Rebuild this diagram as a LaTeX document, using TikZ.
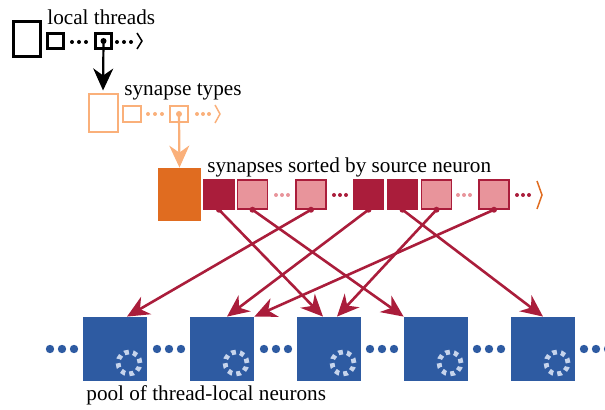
\documentclass[tikz,border=0pt]{standalone}
\usepackage{fontspec}
\setmainfont{Liberation Serif}
\usepackage{xcolor}
\usepackage{tikz}
\usetikzlibrary{arrows.meta}
\usetikzlibrary{positioning}
\definecolor{typorange}{RGB}{250,176,122}
\definecolor{srtorange}{RGB}{224,108,32}
\definecolor{syndark}{RGB}{170,29,59}
\definecolor{synpink}{RGB}{232,148,155}
\definecolor{neublue}{RGB}{46,91,162}
\definecolor{neuring}{RGB}{198,212,236}

\begin{document}
\begin{tikzpicture}[
	x=0.5pt, y=-0.5pt,
	font=\fontsize{10.6}{12}\selectfont,
	>={Stealth[length=11pt,width=10pt,inset=3.5pt]}
]
\tikzset{
    thrbox/.style = {rectangle, draw=black, line width=1.5pt, inner sep=0pt, minimum width=8pt, minimum height=7.5pt},
    typbox/.style = {rectangle, draw=typorange, line width=1pt, inner sep=0pt, minimum width=9pt, minimum height=8pt},
    synbox/.style = {rectangle, draw=syndark, line width=0.75pt, inner sep=0pt, minimum width=15pt, minimum height=14.5pt},
    neubox/.style = {rectangle, fill=neublue, inner sep=0pt, minimum size=32pt},
    headtext/.style = {anchor=base west, inner sep=0pt},
    synarrow/.style = {->, draw=syndark, line width=1.3pt},
}
\useasboundingbox (0,0) rectangle (605,410);

% local threads
\node[thrbox, minimum width=13.5pt, minimum height=17.5pt] (thr0) at (27,39) {};
\node[thrbox] (thr1) at (55.5,41) {};
\node[thrbox] (thr2) at (103.5,41) {};
\fill (thr2.center) circle (1.5pt);
\foreach \x in {72,79,86,117,124,131} \fill (\x,42) circle (1pt);
\draw[line width=0.75pt] (137,33) -- (142,41) -- (137,49);
\node[headtext] (thrtext) at (47,25) {local threads};

% synapse types
\node[typbox, minimum width=14.5pt, minimum height=19pt] (typ0) at (103,113.5) {};
\node[typbox] (typ1) at (132,114) {};
\node[typbox] (typ2) at (179,114) {};
\fill[typorange] (typ2.center) circle (1.5pt);
\foreach \x in {148,155,162,197,203,209} \fill[typorange] (\x,114) circle (1pt);
\draw[typorange, line width=0.75pt] (215,105) -- (220,114) -- (215,123);
\node[headtext] (typtext) at (124,96) {synapse types};
\draw[->, line width=1.1pt, shorten >=1.5pt] (thr2.center) -- (typ0.north);

% sorted synapses
\node[rectangle, fill=srtorange, inner sep=0pt, minimum width=21.5pt, minimum height=26.5pt] (srt) at (179.5,194.5) {};
\draw[->, typorange, line width=1.1pt] (typ2.center) -- (srt.north);
\node[synbox, fill=syndark] (s1) at (219,194.5) {};
\node[synbox, fill=synpink] (s2) at (252.5,194.5) {};
\node[synbox, fill=synpink] (s3) at (311,194.5) {};
\node[synbox, fill=syndark] (s4) at (368.5,194.5) {};
\node[synbox, fill=syndark] (s5) at (402.5,194.5) {};
\node[synbox, fill=synpink] (s6) at (436.5,194.5) {};
\node[synbox, fill=synpink] (s7) at (494,194.5) {};
\foreach \x in {276,282,288,458,464,470} \fill[synpink] (\x,195) circle (1pt);
\foreach \x in {334,340,346,517,523,529} \fill[syndark] (\x,195) circle (1pt);
\draw[srtorange, line width=0.75pt] (537,181) -- (542,195) -- (537,209);
\node[headtext] (srttext) at (207,173) {synapses sorted by source neuron};

% thread-local neurons
\node[neubox] (n1) at (115,349) {};
\node[neubox] (n2) at (222,349) {};
\node[neubox] (n3) at (329,349) {};
\node[neubox] (n4) at (436,349) {};
\node[neubox] (n5) at (543,349) {};
\foreach \n in {n1,n2,n3,n4,n5}
  \draw[neuring, line width=2.4pt, dash pattern=on 2.2pt off 2.12pt] ([shift={(14,14)}]\n.center) circle (5.5pt);
\foreach \x in {50,62,74,157,169,181,264,276,288,370,382,394,477,489,501,584,596,608}
  \fill[neublue] (\x,349) circle (2.1pt);
\node[headtext] (neutext) at (86,401) {pool of thread-local neurons};

% synapse to neuron
\draw[synarrow] (s1.south) -- ([xshift=-3pt]n3.north);
\draw[synarrow] (s2.south) -- (n4.north west);
\draw[synarrow] (s3.south) -- ([xshift=6pt]n1.north);
\draw[synarrow] (s4.south) -- ([xshift=2.5pt]n2.north);
\draw[synarrow] (s5.south) -- (n5.north);
\draw[synarrow] (s6.south) -- ([xshift=4pt]n3.north);
\draw[synarrow] (s7.south) -- (n2.north east);
\foreach \s in {s1,s2,s3,s4,s5,s6,s7} \fill[syndark] (\s.south) circle (1.5pt);
\end{tikzpicture}
\end{document}
